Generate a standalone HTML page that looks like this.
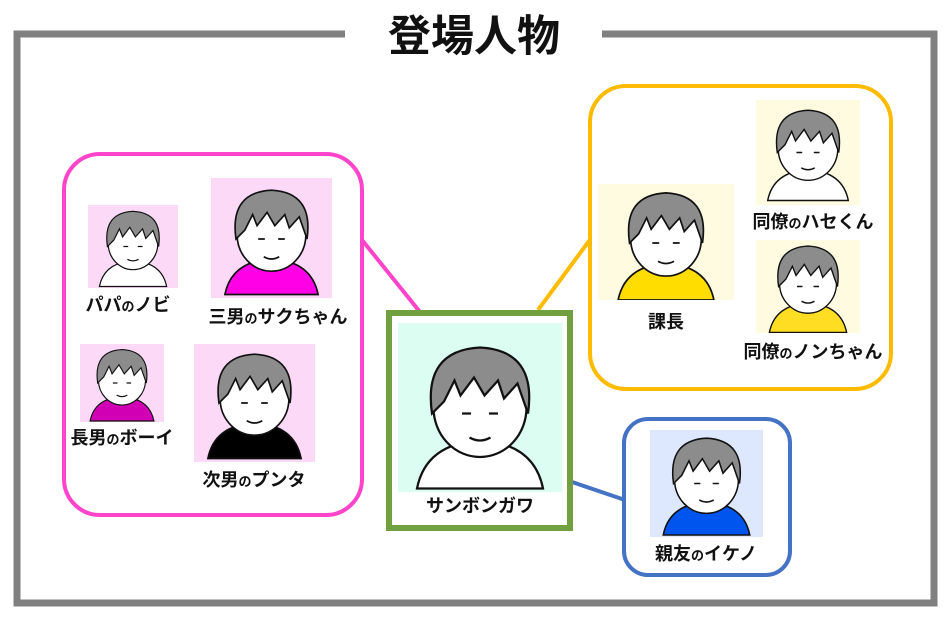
<!DOCTYPE html>
<html><head><meta charset="utf-8"><style>
html,body{margin:0;padding:0;background:#fff}
svg{display:block}
text{font-family:"Liberation Sans","Noto Sans CJK JP",sans-serif;fill:#111}
.l{font-size:18px;text-anchor:middle;font-weight:bold}
.s{font-size:13px}
</style></head><body>
<svg width="950" height="617" viewBox="0 0 950 617" xmlns="http://www.w3.org/2000/svg">
<defs>
<g id="face">
 <path d="M8,100 Q14,70 50,68 Q86,70 92,100 Z" fill="var(--shirt)" stroke="#111" stroke-width="1.5"/>
 <ellipse cx="50" cy="46" rx="31" ry="33" fill="#fff" stroke="#111" stroke-width="1.5"/>
 <path d="M18,50 Q12,8 50,6 Q88,8 82,50 L75,30 L66,40 L62,28 L53,38 L46,26 L37,38 L33,28 L26,42 Z" fill="#8c8c8c" stroke="#111" stroke-width="1.5"/>
 <path d="M38,50 h6 M56,50 h6 M43,66 q7,4 14,0" stroke="#111" stroke-width="1.5" fill="none"/>
</g>
</defs>
<path d="M345,34 H17 V603 H934 V34 H602" fill="none" stroke="#808080" stroke-width="7"/>
<text x="474" y="51" style="font-size:43px;font-weight:bold" text-anchor="middle">登場人物</text>

<line x1="362" y1="240" x2="420" y2="312" stroke="#ff44cc" stroke-width="4"/>
<line x1="538" y1="310" x2="592" y2="237" stroke="#ffbb00" stroke-width="4"/>
<line x1="572" y1="482" x2="625" y2="500" stroke="#4472c4" stroke-width="4"/>

<rect x="64" y="154" width="298" height="361" rx="36" fill="#fff" stroke="#ff44cc" stroke-width="4"/>
<rect x="88" y="205" width="90" height="83" fill="#fdd9f8"/>
<svg x="93" y="205" width="80" height="83" viewBox="0 0 100 100" style="--shirt:#fff"><use href="#face"/></svg>
<rect x="211" y="178" width="121" height="120" fill="#fdd9f8"/>
<svg x="216" y="180" width="111" height="118" viewBox="0 0 100 100" style="--shirt:#ff00e6"><use href="#face"/></svg>
<rect x="80" y="344" width="84" height="78" fill="#fdd9f8"/>
<svg x="84" y="344" width="76" height="78" viewBox="0 0 100 100" style="--shirt:#d100b4"><use href="#face"/></svg>
<rect x="194" y="344" width="121" height="118" fill="#fdd9f8"/>
<svg x="199" y="344" width="111" height="118" viewBox="0 0 100 100" style="--shirt:#000"><use href="#face"/></svg>
<text class="l" x="128" y="311">パパ<tspan class="s">の</tspan>ノビ</text>
<text class="l" x="278" y="323">三男<tspan class="s">の</tspan>サクちゃん</text>
<text class="l" x="122" y="444">長男<tspan class="s">の</tspan>ボーイ</text>
<text class="l" x="254" y="486">次男<tspan class="s">の</tspan>プンタ</text>

<rect x="389" y="313" width="181" height="215" fill="#fff" stroke="#70a040" stroke-width="6"/>
<rect x="398" y="323" width="164" height="169" fill="#dcfdf1"/>
<svg x="405" y="335" width="150" height="157" viewBox="0 0 100 100" style="--shirt:#fff"><use href="#face"/></svg>
<text class="l" x="480" y="512">サンボンガワ</text>

<rect x="590" y="86" width="301" height="303" rx="36" fill="#fff" stroke="#ffbb00" stroke-width="4"/>
<rect x="598" y="184" width="136" height="116" fill="#fffbe0"/>
<svg x="608" y="186" width="116" height="114" viewBox="0 0 100 100" style="--shirt:#ffdd00"><use href="#face"/></svg>
<rect x="756" y="100" width="104" height="105" fill="#fffbe0"/>
<svg x="760" y="100" width="96" height="105" viewBox="0 0 100 100" style="--shirt:#fff"><use href="#face"/></svg>
<rect x="756" y="240" width="104" height="93" fill="#fffbe0"/>
<svg x="762" y="240" width="92" height="93" viewBox="0 0 100 100" style="--shirt:#ffdd22"><use href="#face"/></svg>
<text class="l" x="666" y="328">課長</text>
<text class="l" x="813" y="228">同僚<tspan class="s">の</tspan>ハセくん</text>
<text class="l" x="813" y="358">同僚<tspan class="s">の</tspan>ノンちゃん</text>

<rect x="624" y="419" width="166" height="156" rx="24" fill="#fff" stroke="#4472c4" stroke-width="4"/>
<rect x="650" y="430" width="113" height="107" fill="#dde8ff"/>
<svg x="655" y="430" width="103" height="107" viewBox="0 0 100 100" style="--shirt:#0055ee"><use href="#face"/></svg>
<text class="l" x="706" y="560">親友<tspan class="s">の</tspan>イケノ</text>
</svg>
</body></html>
